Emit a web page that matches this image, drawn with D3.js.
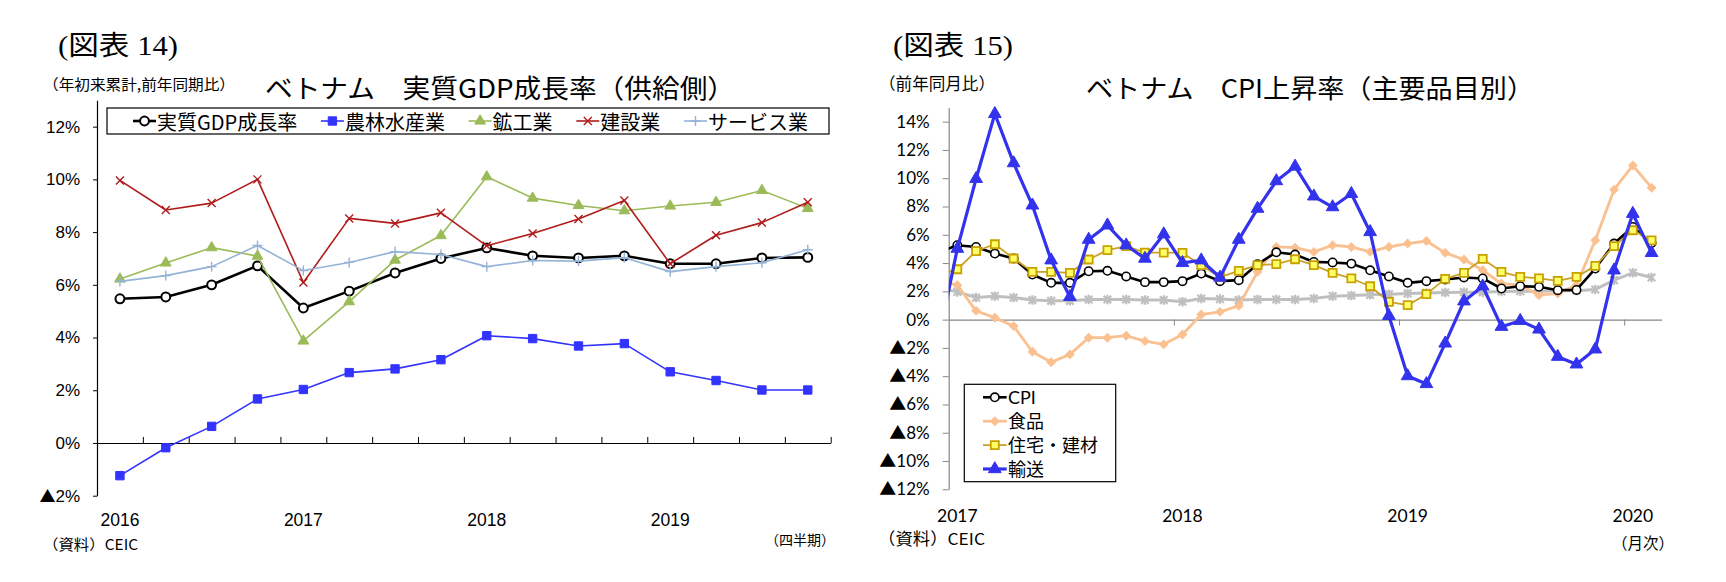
<!DOCTYPE html>
<html>
<head>
<meta charset="utf-8">
<script src="https://cdn.jsdelivr.net/npm/d3@7"></script>
<style>
  body { margin: 0; background: #fff; }
  svg { display: block; }
</style>
</head>
<body>
<svg id="chart" width="1726" height="582"></svg>
<script>
// ---- data: figure 14 (quarterly, YTD y/y %) ----
const gdpQuarters = ["2016Q1","2016Q2","2016Q3","2016Q4","2017Q1","2017Q2","2017Q3","2017Q4",
                     "2018Q1","2018Q2","2018Q3","2018Q4","2019Q1","2019Q2","2019Q3","2019Q4"];
const gdpYearLabels = ["2016","","","","2017","","","","2018","","","","2019","","",""];
const gdpTotal   = [5.47,5.54,6.00,6.72,5.12,5.76,6.45,7.00,7.40,7.10,7.02,7.10,6.80,6.80,7.02,7.04];
const gdpAgri    = [-1.24,-0.18,0.63,1.67,2.03,2.67,2.81,3.16,4.07,3.96,3.68,3.77,2.70,2.37,2.01,2.01];
const gdpMining  = [6.22,6.83,7.41,7.09,3.87,5.36,6.94,7.87,10.10,9.29,9.01,8.81,8.99,9.13,9.58,8.90];
const gdpConstr  = [9.96,8.84,9.10,10.00,6.09,8.52,8.33,8.73,7.48,7.95,8.50,9.20,6.80,7.88,8.36,9.13];
const gdpService = [6.13,6.35,6.69,7.49,6.54,6.85,7.26,7.15,6.69,6.92,6.90,7.03,6.50,6.69,6.84,7.33];
const gdpTicks = [-2,0,2,4,6,8,10,12];

// ---- data: figure 15 (monthly, y/y %) ----
const cpiMonths = ["2016-12",
  "2017-01","2017-02","2017-03","2017-04","2017-05","2017-06","2017-07","2017-08","2017-09","2017-10","2017-11","2017-12",
  "2018-01","2018-02","2018-03","2018-04","2018-05","2018-06","2018-07","2018-08","2018-09","2018-10","2018-11","2018-12",
  "2019-01","2019-02","2019-03","2019-04","2019-05","2019-06","2019-07","2019-08","2019-09","2019-10","2019-11","2019-12",
  "2020-01","2020-02"];
const cpiAll = [4.74,
  5.26,5.14,4.67,4.32,3.19,2.60,2.60,3.42,3.45,3.05,2.65,2.65,
  2.72,3.26,2.72,2.79,3.92,4.76,4.60,4.08,4.04,3.96,3.49,3.05,
  2.60,2.72,2.84,2.98,2.91,2.20,2.36,2.32,2.08,2.10,3.61,5.38,
  6.55,5.42];
const cpiFood = [2.80,
  2.44,0.62,0.13,-0.46,-2.27,-3.02,-2.46,-1.28,-1.28,-1.14,-1.52,-1.75,
  -1.05,0.36,0.55,0.98,3.38,5.14,5.09,4.79,5.26,5.14,4.79,5.14,
  5.38,5.56,4.72,4.25,3.49,2.55,2.44,1.73,1.85,2.44,5.61,9.19,
  10.90,9.33];
const cpiHousing = [3.17,
  3.56,4.84,5.33,4.32,3.38,3.38,3.31,4.25,4.91,5.19,4.74,4.74,
  4.72,3.85,3.00,3.45,3.85,3.92,4.27,3.85,3.31,2.91,2.36,1.26,
  1.02,1.80,2.88,3.31,4.29,3.38,3.02,2.91,2.74,3.02,3.80,5.19,
  6.32,5.61];
const cpiTransport = [-1.40,
  5.02,9.96,14.55,11.07,8.08,4.20,1.61,5.66,6.67,5.26,4.32,6.04,
  4.01,4.20,2.98,5.66,7.85,9.80,10.83,8.72,7.96,8.90,6.20,0.27,
  -3.99,-4.55,-1.68,1.30,2.36,-0.50,-0.08,-0.69,-2.62,-3.16,-2.10,3.49,
  7.49,4.72];
const cpiCore = [2.22,
  1.96,1.56,1.66,1.56,1.38,1.33,1.33,1.42,1.42,1.42,1.38,1.38,
  1.26,1.49,1.45,1.38,1.42,1.42,1.42,1.49,1.66,1.70,1.75,1.80,
  1.85,1.89,1.92,1.94,1.94,1.99,2.01,2.01,2.04,2.04,2.13,2.79,
  3.31,2.98];
const cpiTicks = [-12,-10,-8,-6,-4,-2,0,2,4,6,8,10,12,14];
const cpiYearLabels = ["2017","2018","2019","2020"];

// ---- styles ----
const jp = "'Noto Sans CJK JP', sans-serif";
const narrow = "'Liberation Sans Narrow', 'Liberation Sans', 'Noto Sans CJK JP', sans-serif";
const latin = "Lato, 'Noto Sans CJK JP', sans-serif";
const serif = "'Liberation Serif', 'DejaVu Serif', 'Noto Sans CJK JP', serif";

const gdpSeries = [
  {name: "実質GDP成長率", values: gdpTotal,   color: "#000000", width: 2.6, marker: "circle",   size: 62, fill: "#ffffff", mstroke: "#000000", msw: 2},
  {name: "農林水産業",     values: gdpAgri,    color: "#3333ff", width: 1.6, marker: "square",   size: 70, fill: "#3333ff", mstroke: "#3333ff", msw: 1},
  {name: "鉱工業",         values: gdpMining,  color: "#9bbb59", width: 1.6, marker: "triangle", size: 50, fill: "#9bbb59", mstroke: "#9bbb59", msw: 1},
  {name: "建設業",         values: gdpConstr,  color: "#b01c1c", width: 1.6, marker: "x",        size: 4,  fill: "none",    mstroke: "#b01c1c", msw: 1.4},
  {name: "サービス業",     values: gdpService, color: "#95b3d7", width: 1.6, marker: "plus",     size: 5,  fill: "none",    mstroke: "#95b3d7", msw: 1.4}
];

const cpiSeries = [
  {name: null,         values: cpiCore,      color: "#bfbfbf", width: 3,   marker: "star",     size: 3.8, fill: "none",    mstroke: "#bfbfbf", msw: 2.2},
  {name: "食品",       values: cpiFood,      color: "#fac090", width: 2.8, marker: "diamond",  size: 36,  fill: "#fac090", mstroke: "#fac090", msw: 1},
  {name: "CPI",        values: cpiAll,       color: "#000000", width: 2.6, marker: "circle",   size: 55,  fill: "#ffffff", mstroke: "#000000", msw: 1.6},
  {name: "住宅・建材", values: cpiHousing,   color: "#c9a227", width: 1.8, marker: "square",   size: 64,  fill: "#ffff66", mstroke: "#c9a000", msw: 1.8},
  {name: "輸送",       values: cpiTransport, color: "#3333ee", width: 3.2, marker: "triangle", size: 70,  fill: "#3333ee", mstroke: "#3333ee", msw: 1}
];
const cpiLegendOrder = ["CPI", "食品", "住宅・建材", "輸送"];

const svg = d3.select("#chart");

function markerPath(type, s) {
  if (type === "x") return `M${-s},${-s}L${s},${s}M${-s},${s}L${s},${-s}`;
  if (type === "plus") return `M${-s},0H${s}M0,${-s}V${s}`;
  if (type === "star") return `M${-s},${-s}L${s},${s}M${-s},${s}L${s},${-s}M0,${-s * 1.25}V${s * 1.25}`;
  const sym = {circle: d3.symbolCircle, square: d3.symbolSquare, triangle: d3.symbolTriangle, diamond: d3.symbolSquare}[type];
  return d3.symbol(sym, s)();
}

function drawSeries(g, st, xf, yf) {
  const line = d3.line().x((d, i) => xf(i)).y(d => yf(d));
  g.append("path")
    .attr("d", line(st.values))
    .attr("fill", "none")
    .attr("stroke", st.color)
    .attr("stroke-width", st.width)
    .attr("stroke-linejoin", "round");
  g.selectAll(null)
    .data(st.values)
    .enter().append("path")
    .attr("transform", (d, i) => `translate(${xf(i)},${yf(d)})` + (st.marker === "diamond" ? " rotate(45)" : ""))
    .attr("d", markerPath(st.marker, st.size))
    .attr("fill", st.fill)
    .attr("stroke", st.mstroke)
    .attr("stroke-width", st.msw);
}

// negative values are written with a leading ▲ (Japanese style)
function pctLabel(v) {
  return v < 0 ? "▲" + (-v) + "%" : v + "%";
}

// put the ▲ in a full-width CJK glyph, like the original
function styleTickText(sel, family, size, triSize) {
  sel.style("font-family", family).style("font-size", size + "px").attr("fill", "#000")
    .each(function () {
      const t = d3.select(this);
      const s = t.text();
      if (s.startsWith("▲")) {
        t.text("");
        t.append("tspan").style("font-family", jp).style("font-size", triSize + "px").text("▲");
        t.append("tspan").text(s.slice(1));
      }
    });
}

function label(x, y, txt, size, family, opts = {}) {
  const t = svg.append("text")
    .attr("x", x).attr("y", y)
    .attr("dominant-baseline", "central")
    .attr("text-anchor", opts.anchor || "start")
    .style("font-family", family)
    .style("font-size", size + "px")
    .style("fill", "#000")
    .text(txt);
  if (opts.len) t.attr("textLength", opts.len).attr("lengthAdjust", "spacingAndGlyphs");
  return t;
}

// ================= Figure 14 =================
const L = {left: 97, right: 830.7, top: 100.3, bottom: 495.7};
const xL = d3.scaleBand().domain(gdpQuarters).range([L.left, L.right]);
const xLc = i => xL(gdpQuarters[i]) + xL.bandwidth() / 2;
const yL = d3.scaleLinear().domain([-2, 13]).range([L.bottom, L.top]);

label(58, 46, "(図表 14)", 27, serif, {len: 120});
label(43, 83, "（年初来累計,前年同期比）", 15, jp, {len: 192});
label(265, 86, "ベトナム　実質GDP成長率（供給側）", 26, jp, {len: 470});

// y axis
const yAxisL = svg.append("g")
  .attr("transform", `translate(${L.left},0)`)
  .call(d3.axisLeft(yL).tickValues(gdpTicks).tickSize(4).tickSizeOuter(0).tickPadding(13).tickFormat(pctLabel));
yAxisL.select(".domain").attr("stroke", "#000").attr("stroke-width", 1.2);
yAxisL.selectAll(".tick line").attr("stroke", "#000");
styleTickText(yAxisL.selectAll(".tick text"), narrow, 17, 16);

// x axis at 0% with ticks between quarters
const qEdge = d3.scaleLinear().domain([0, gdpQuarters.length]).range([L.left, L.right]);
const xAxisL = svg.append("g")
  .attr("transform", `translate(0,${yL(0)})`)
  .call(d3.axisBottom(qEdge).tickValues(d3.range(1, gdpQuarters.length + 1)).tickSize(-6).tickSizeOuter(0).tickFormat(""));
xAxisL.select(".domain").attr("stroke", "#000").attr("stroke-width", 1.2);
xAxisL.selectAll(".tick line").attr("stroke", "#000");

// year labels under the first quarter of each year
gdpYearLabels.forEach((d, i) => {
  if (d) label(xLc(i), 520, d, 17.5, "'Liberation Sans', sans-serif", {anchor: "middle"});
});

label(43, 543, "（資料）CEIC", 14.5, jp, {len: 95});
label(835, 539, "（四半期）", 14, jp, {anchor: "end"});

const gL = svg.append("g");
gdpSeries.forEach(st => drawSeries(gL.append("g"), st, xLc, yL));

// legend (top box)
const legL = {x: 107, y: 108, w: 722, h: 26};
svg.append("rect")
  .attr("x", legL.x).attr("y", legL.y).attr("width", legL.w).attr("height", legL.h)
  .attr("fill", "#fff").attr("stroke", "#000").attr("stroke-width", 1.2);
const legItems = gdpSeries.map(st => {
  const g = svg.append("g");
  g.append("line").attr("x1", 0).attr("x2", 23).attr("y1", 0).attr("y2", 0)
    .attr("stroke", st.color).attr("stroke-width", st.width);
  g.append("path").attr("transform", "translate(11.5,0)")
    .attr("d", markerPath(st.marker, st.size))
    .attr("fill", st.fill).attr("stroke", st.mstroke).attr("stroke-width", st.msw);
  const t = g.append("text").attr("x", 24).attr("y", 0)
    .attr("dominant-baseline", "central")
    .style("font-family", jp).style("font-size", "20px").text(st.name);
  return {g, w: 24 + t.node().getComputedTextLength()};
});
const legUsed = d3.sum(legItems, d => d.w);
const legGap = (legL.w - 26 - 21 - legUsed) / (legItems.length - 1);
let legX = legL.x + 26;
legItems.forEach(it => {
  it.g.attr("transform", `translate(${legX},${legL.y + legL.h / 2})`);
  legX += it.w + legGap;
});

// ================= Figure 15 =================
const R = {left: 948.7, right: 1661.7, top: 107.5, bottom: 489.3};
const monthIndex = cpiMonths.map(s => {
  const [y, m] = s.split("-").map(Number);
  return (y - 2017) * 12 + (m - 1);
});
const xR = d3.scaleLinear().domain([-0.46, 37.54]).range([R.left, R.right]);
const xRc = i => xR(monthIndex[i]);
const yR = d3.scaleLinear().domain([-12, 15]).range([R.bottom, R.top]);
const axisGray = "#868686";

label(893, 46, "(図表 15)", 27, serif, {len: 120});
label(879, 83, "（前年同月比）", 16.5, jp, {len: 116});
label(1086, 86, "ベトナム　CPI上昇率（主要品目別）", 26, jp, {len: 448});

const yAxisR = svg.append("g")
  .attr("transform", `translate(${R.left},0)`)
  .call(d3.axisLeft(yR).tickValues(cpiTicks).tickSize(6).tickSizeOuter(0).tickPadding(13).tickFormat(pctLabel));
yAxisR.select(".domain").attr("stroke", axisGray).attr("stroke-width", 1.2);
yAxisR.selectAll(".tick line").attr("stroke", axisGray);
styleTickText(yAxisR.selectAll(".tick text"), latin, 17, 17);

// year boundaries (Jan 1) as ticks on the 0% line
const yearStarts = cpiYearLabels.slice(1).map((d, k) => xR.domain()[0] + 12 * (k + 1));
const xAxisR = svg.append("g")
  .attr("transform", `translate(0,${yR(0)})`)
  .call(d3.axisBottom(xR).tickValues(yearStarts).tickSize(6).tickSizeOuter(0).tickFormat(""));
xAxisR.select(".domain").attr("stroke", axisGray).attr("stroke-width", 1.2);
xAxisR.selectAll(".tick line").attr("stroke", axisGray);

cpiYearLabels.forEach((d, k) => label(xR(12 * k), 515, d, 17.5, latin, {anchor: "middle"}));

label(878, 538, "（資料）CEIC", 16.5, jp, {len: 107});
label(1612, 542, "（月次）", 15.5, jp);

svg.append("clipPath").attr("id", "clipR")
  .append("rect")
  .attr("x", R.left).attr("y", R.top - 30)
  .attr("width", R.right - R.left).attr("height", R.bottom - R.top + 60);
const gR = svg.append("g").attr("clip-path", "url(#clipR)");
cpiSeries.forEach(st => drawSeries(gR.append("g"), st, xRc, yR));

// legend (lower left box)
const legR = {x: 964.3, y: 384.3, w: 151.4, h: 97.4, row: 23.9};
svg.append("rect")
  .attr("x", legR.x).attr("y", legR.y).attr("width", legR.w).attr("height", legR.h)
  .attr("fill", "#fff").attr("stroke", "#000").attr("stroke-width", 1.2);
cpiLegendOrder.forEach((name, k) => {
  const st = cpiSeries.find(s => s.name === name);
  const g = svg.append("g").attr("transform", `translate(${legR.x + 18.7},${legR.y + 13 + k * legR.row})`);
  g.append("line").attr("x1", 0).attr("x2", 23.7).attr("y1", 0).attr("y2", 0)
    .attr("stroke", st.color).attr("stroke-width", st.width);
  g.append("path")
    .attr("transform", "translate(11.8,0)" + (st.marker === "diamond" ? " rotate(45)" : ""))
    .attr("d", markerPath(st.marker, st.size))
    .attr("fill", st.fill).attr("stroke", st.mstroke).attr("stroke-width", st.msw);
  g.append("text").attr("x", 25).attr("y", 0)
    .attr("dominant-baseline", "central")
    .style("font-family", latin).style("font-size", "18px").text(name);
});
</script>
</body>
</html>
